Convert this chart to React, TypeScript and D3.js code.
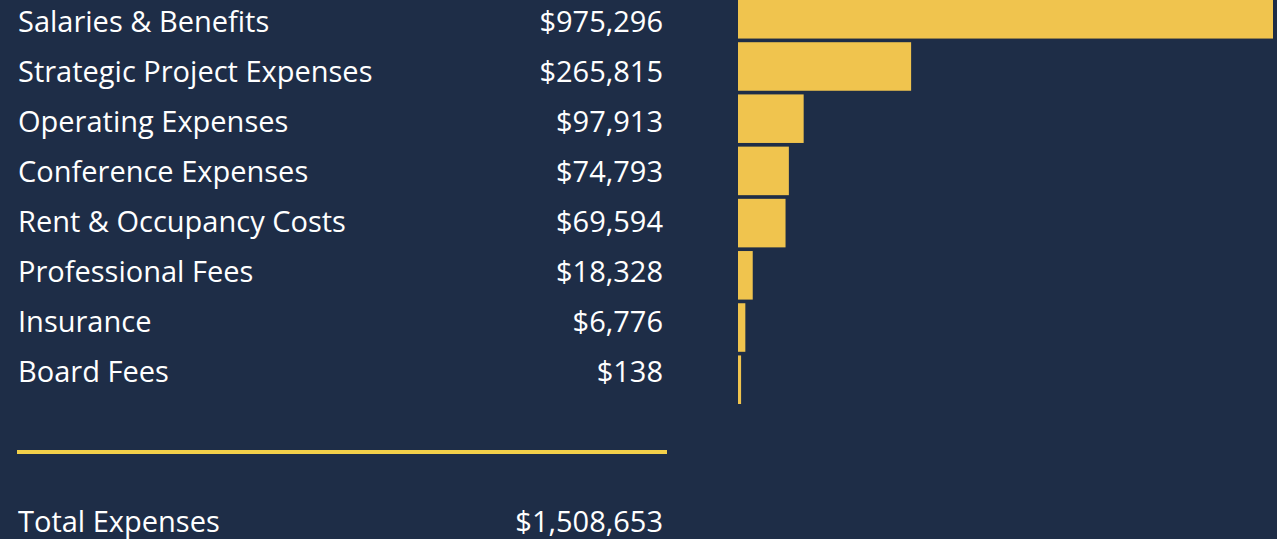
import React from "react";
import * as d3 from "d3";

const categories = [
  "Salaries & Benefits",
  "Strategic Project Expenses",
  "Operating Expenses",
  "Conference Expenses",
  "Rent & Occupancy Costs",
  "Professional Fees",
  "Insurance",
  "Board Fees",
];
const values = [975296, 265815, 97913, 74793, 69594, 18328, 6776, 138];
const totalLabel = "Total Expenses";
const totalValue = 1508653;

const W = 1277;
const H = 539;
const BG = "#1e2d47";
const BAR = "#f0c44e";
const LINE = "#f2cf4a";
const FONT = "'Open Sans', Lato, sans-serif";

export default function App() {
  const fmt = (v: number) => "$" + d3.format(",")(v);
  const rowY = d3.scalePoint<string>().domain(categories).range([32, 382]);
  const barY = d3
    .scaleBand<string>()
    .domain(categories)
    .range([-10, 404])
    .paddingInner(0.07)
    .paddingOuter(0);
  const barX0 = 738;
  const x = d3.scaleLinear().domain([0, 1000000]).range([3, 643]);

  return (
    <div style={{ position: "fixed", left: 0, top: 0, width: W, height: H }}>
      <svg width={W} height={H} style={{ display: "block", background: BG }}>
        <defs>
          <clipPath id="barclip">
            <rect x={0} y={0} width={1273} height={H} />
          </clipPath>
        </defs>
        <rect x={0} y={0} width={W} height={H} fill={BG} />
        <g clipPath="url(#barclip)">
          {categories.map((c, i) => (
            <rect
              key={c}
              x={barX0}
              y={barY(c)}
              width={x(values[i])}
              height={barY.bandwidth()}
              fill={BAR}
            />
          ))}
        </g>
        <g fontFamily={FONT} fontSize={29} fill="#ffffff">
          {categories.map((c, i) => (
            <g key={c}>
              <text x={18} y={rowY(c)}>
                {c}
              </text>
              <text x={663} y={rowY(c)} textAnchor="end">
                {fmt(values[i])}
              </text>
            </g>
          ))}
          <text x={18} y={532}>
            {totalLabel}
          </text>
          <text x={663} y={532} textAnchor="end">
            {fmt(totalValue)}
          </text>
        </g>
        <line x1={17} x2={667} y1={452} y2={452} stroke={LINE} strokeWidth={4} />
      </svg>
    </div>
  );
}
